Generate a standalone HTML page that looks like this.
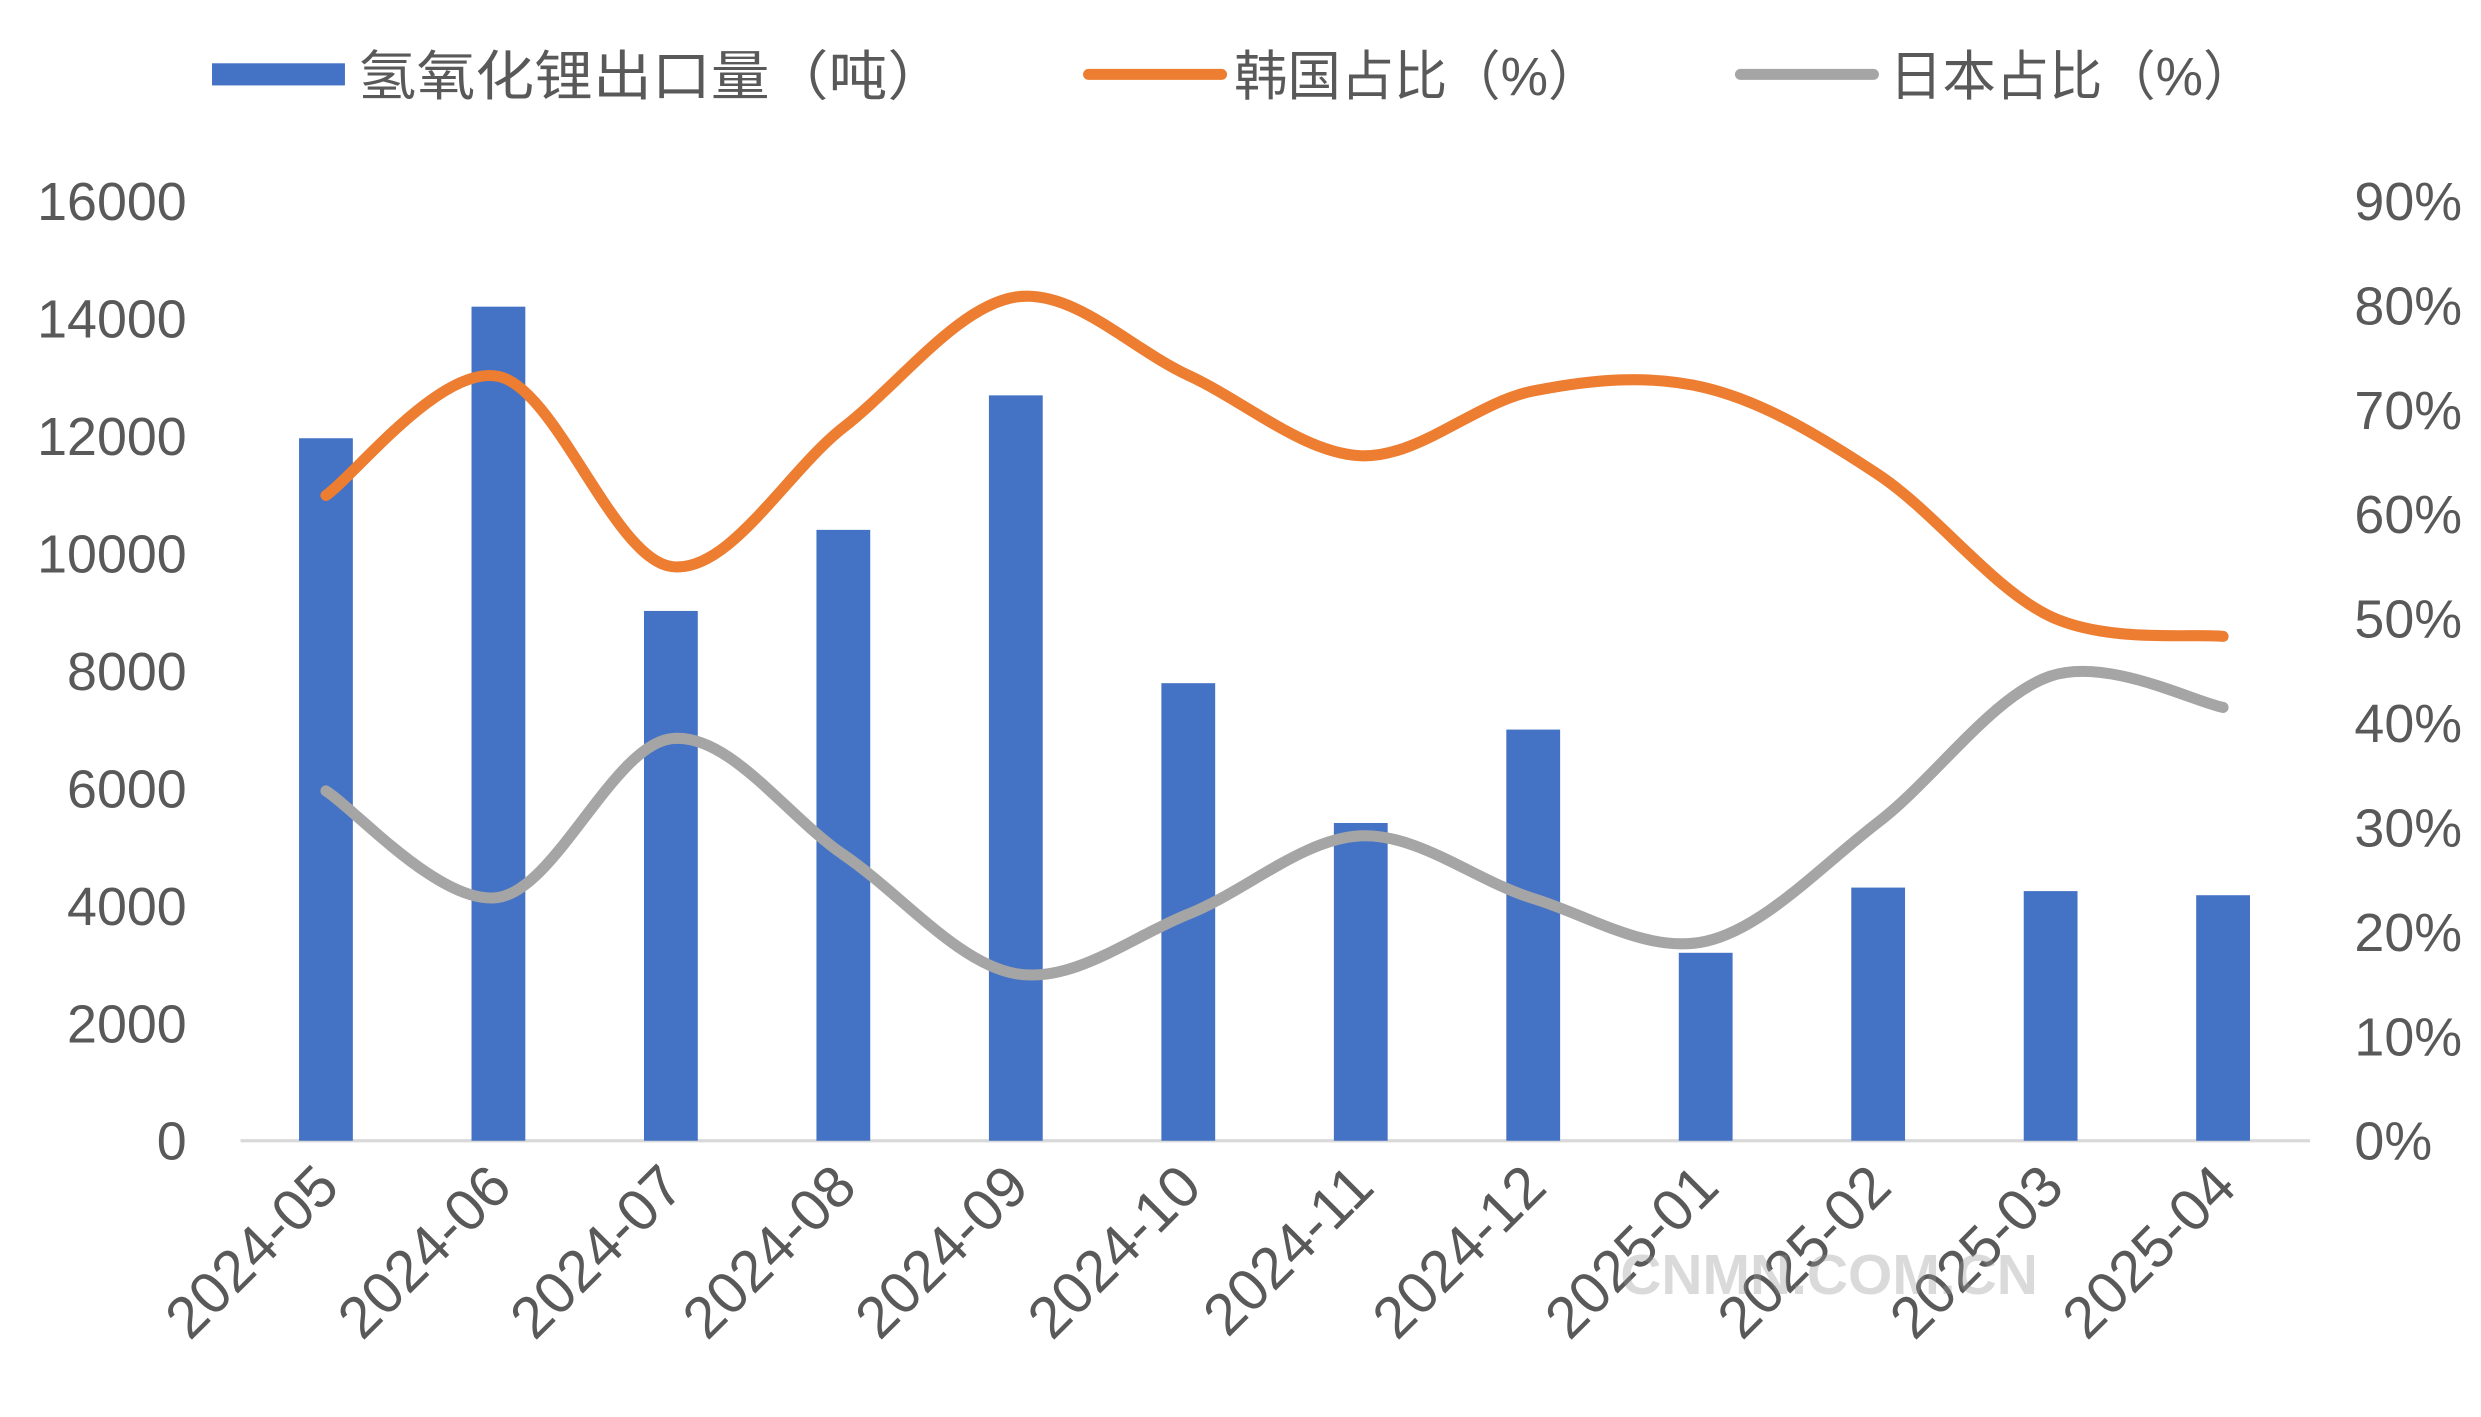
<!DOCTYPE html>
<html><head><meta charset="utf-8"><style>
html,body{margin:0;padding:0;background:#fff;}
svg{display:block;}
text{font-family:"Liberation Sans","Noto Sans CJK SC",sans-serif;fill:#595959;}
</style></head><body>
<svg id="chart" width="2481" height="1417" viewBox="0 0 1568 895.6" preserveAspectRatio="none" xmlns="http://www.w3.org/2000/svg">
<g id="legend">
  <g><rect x="134" y="40" width="84" height="14" fill="#4472C4"/><text x="226" y="60" font-size="34" textLength="372" lengthAdjust="spacingAndGlyphs">氢氧化锂出口量（吨）</text></g>
  <g><line x1="688" y1="47" x2="772" y2="47" stroke="#ED7D31" stroke-width="7" stroke-linecap="round"/><text x="780" y="60" font-size="34" textLength="232" lengthAdjust="spacingAndGlyphs">韩国占比（%）</text></g>
  <g><line x1="1100" y1="47" x2="1184" y2="47" stroke="#A5A5A5" stroke-width="7" stroke-linecap="round"/><text x="1194" y="60" font-size="34" textLength="232" lengthAdjust="spacingAndGlyphs">日本占比（%）</text></g>
</g>
<g id="axes"></g>
<g id="bars"></g>
<g id="lines"></g>
<text x="1024" y="818" font-size="36" font-weight="bold" style="fill:rgba(150,150,150,0.35)">CNMN.COM.CN</text>
</svg>
<script>
const categories=["2024-05","2024-06","2024-07","2024-08","2024-09","2024-10","2024-11","2024-12","2025-01","2025-02","2025-03","2025-04"];
const exportVolume=[11960,14200,9020,10400,12690,7790,5410,7000,3200,4310,4250,4180];
const koreaShare=[61.8,73.2,55,68.3,80.8,73.3,65.6,71.8,72.1,63.8,50.2,48.3];
const japanShare=[33.5,23.3,38.5,27.4,16,21.7,29.2,23.2,19.1,30.5,44.5,41.5];
const leftTicks=[0,2000,4000,6000,8000,10000,12000,14000,16000];
const rightTicks=[0,10,20,30,40,50,60,70,80,90];

const NS="http://www.w3.org/2000/svg";
const y0=721,yTop=127;
const yL=v=>y0-(v/16000)*(y0-yTop);
const yR=v=>y0-(v/90)*(y0-yTop);
const xC=i=>206+i*109;
function mk(tag,attrs,parent){const e=document.createElementNS(NS,tag);for(const k in attrs)e.setAttribute(k,attrs[k]);parent.appendChild(e);return e;}
const axes=document.getElementById('axes'),bars=document.getElementById('bars'),lines=document.getElementById('lines');
const base=mk('line',{x1:152,x2:1460,y1:y0,y2:y0,stroke:'#D9D9D9','stroke-width':2},axes);


leftTicks.forEach(v=>{const t=mk('text',{x:118,y:yL(v)+12,'font-size':34,'text-anchor':'end'},axes);t.textContent=v;

});
rightTicks.forEach(v=>{const t=mk('text',{x:1488,y:yR(v)+12,'font-size':34},axes);t.textContent=v+'%';

});
categories.forEach((c,i)=>{const x=xC(i)+10,y=752;const t=mk('text',{x:x,y:y,'font-size':37,'text-anchor':'end',transform:`rotate(-45 ${x} ${y})`},axes);t.textContent=c;

});
exportVolume.forEach((v,i)=>{const r=mk('rect',{x:xC(i)-17,y:yL(v),width:34,height:y0-yL(v),fill:'#4472C4'},bars);

});
function smooth(pts){let d=`M${pts[0][0]},${pts[0][1]}`;for(let i=0;i<pts.length-1;i++){const p0=pts[i-1]||pts[i],p1=pts[i],p2=pts[i+1],p3=pts[i+2]||p2;const k=6;
d+=` C${p1[0]+(p2[0]-p0[0])/k},${p1[1]+(p2[1]-p0[1])/k} ${p2[0]-(p3[0]-p1[0])/k},${p2[1]-(p3[1]-p1[1])/k} ${p2[0]},${p2[1]}`;}return d;}
const kp=mk('path',{d:smooth(koreaShare.map((v,i)=>[xC(i),yR(v)])),fill:'none',stroke:'#ED7D31','stroke-width':7,'stroke-linecap':'round'},lines);


const jp=mk('path',{d:smooth(japanShare.map((v,i)=>[xC(i),yR(v)])),fill:'none',stroke:'#A5A5A5','stroke-width':7,'stroke-linecap':'round'},lines);


</script>
</body></html>
